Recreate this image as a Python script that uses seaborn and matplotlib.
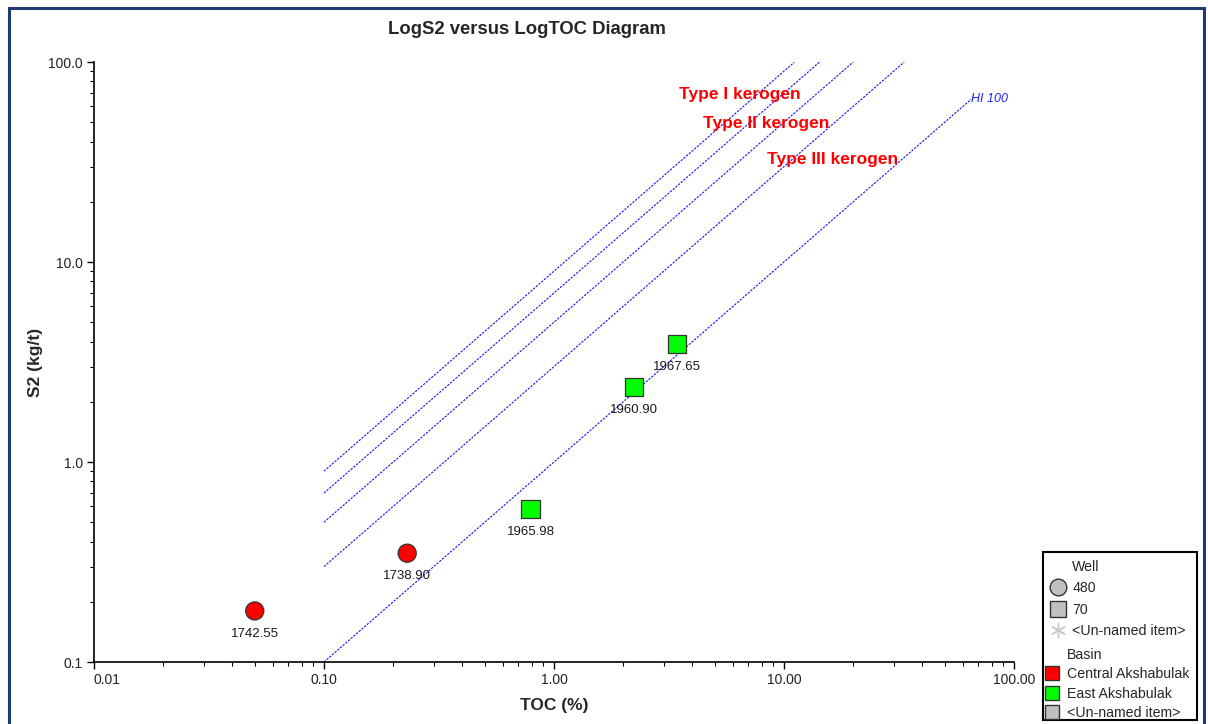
import numpy as np
import pandas as pd
import matplotlib
matplotlib.use("Agg")
import matplotlib.pyplot as plt
import seaborn as sns
from matplotlib.lines import Line2D
from matplotlib.patches import Rectangle
from matplotlib.ticker import LogLocator, NullFormatter

# ---------------- data ----------------
sample_labels = ["1742.55", "1738.90", "1965.98", "1960.90", "1967.65"]
toc = [0.05, 0.23, 0.79, 2.23, 3.43]
s2 = [0.18, 0.35, 0.58, 2.37, 3.89]
well = ["480", "480", "70", "70", "70"]
basin = ["Central Akshabulak", "Central Akshabulak",
         "East Akshabulak", "East Akshabulak", "East Akshabulak"]

hi_values = [900, 700, 500, 300, 100]
hi_toc_start = [0.1, 0.1, 0.1, 0.1, 0.1]
hi_toc_end = [11.1, 14.3, 20.0, 33.3, 65.0]

x_ticks = [0.01, 0.1, 1, 10, 100]
x_tick_labels = ["0.01", "0.10", "1.00", "10.00", "100.00"]
y_ticks = [0.1, 1, 10, 100]
y_tick_labels = ["0.1", "1.0", "10.0", "100.0"]

kerogen_labels = ["Type I kerogen", "Type II kerogen", "Type III kerogen"]
kerogen_pos = [(6.44, 69.0), (8.35, 49.5), (16.2, 32.4)]

well_levels = ["480", "70"]
basin_levels = ["Central Akshabulak", "East Akshabulak"]
basin_colors = ["#ff0000", "#00ff00"]

df = pd.DataFrame({"TOC": toc, "S2": s2, "Well": well, "Basin": basin,
                   "Label": sample_labels})

# ---------------- figure ----------------
sns.set_style("ticks")
plt.rcParams["font.family"] = ["Liberation Sans", "DejaVu Sans"]

W, H = 1208, 724
fig = plt.figure(figsize=(W / 100, H / 100), dpi=100)
ax = fig.add_axes([94 / W, 1 - 662 / H, 920 / W, 600 / H])

ax.set_xscale("log")
ax.set_yscale("log")

# HI lines
for hi, t0, t1 in zip(hi_values, hi_toc_start, hi_toc_end):
    xs = np.array([t0, t1])
    ax.plot(xs, xs * hi / 100.0, color="#1010ff", lw=0.8,
            dashes=(2.0, 1.2), zorder=2)

ax.text(hi_toc_end[-1], hi_toc_end[-1] * hi_values[-1] / 100.0,
        "HI " + str(hi_values[-1]), color="#2020ff", fontsize=9,
        style="italic", ha="left", va="center")

for lab, (px, py) in zip(kerogen_labels, kerogen_pos):
    ax.text(px, py, lab, color="#ff0000", fontsize=12.5, fontweight="bold",
            ha="center", va="center", zorder=4)

sns.scatterplot(data=df, x="TOC", y="S2", hue="Basin", style="Well",
                hue_order=basin_levels, style_order=well_levels,
                palette=dict(zip(basin_levels, basin_colors)),
                markers={"480": "o", "70": "s"}, s=170,
                edgecolor="#333333", linewidth=0.9, legend=False,
                ax=ax, zorder=5)

for x, y, lab in zip(df["TOC"], df["S2"], df["Label"]):
    ax.annotate(lab, (x, y), xytext=(0, -12), textcoords="offset points",
                ha="center", va="top", fontsize=9.5, color="#1a1a1a",
                zorder=6)

ax.set_xlim(0.01, 100)
ax.set_ylim(0.1, 100)
ax.set_xticks(x_ticks)
ax.set_xticklabels(x_tick_labels)
ax.set_yticks(y_ticks)
ax.set_yticklabels(y_tick_labels)
ax.xaxis.set_minor_locator(LogLocator(base=10, subs=np.arange(2, 10)))
ax.yaxis.set_minor_locator(LogLocator(base=10, subs=np.arange(2, 10)))
ax.xaxis.set_minor_formatter(NullFormatter())
ax.yaxis.set_minor_formatter(NullFormatter())
ax.tick_params(which="major", direction="out", length=5, width=1,
               labelsize=10, colors="#000000", labelcolor="#222222",
               bottom=True, left=True, top=False, right=False)
ax.tick_params(which="minor", direction="out", length=3, width=0.8,
               colors="#000000", bottom=True, left=True, top=False,
               right=False)
ax.tick_params(axis="x", which="major", pad=3)
ax.tick_params(axis="y", which="major", pad=3)
ax.get_xticklabels()[0].set_horizontalalignment("left")
for side in ["top", "right"]:
    ax.spines[side].set_visible(False)
for side in ["left", "bottom"]:
    ax.spines[side].set_color("#000000")
    ax.spines[side].set_linewidth(1.2)
ax.grid(False)

ax.set_xlabel("TOC (%)", fontsize=12.5, fontweight="bold", labelpad=8)
ax.set_ylabel("S2 (kg/t)", fontsize=12.5, fontweight="bold", labelpad=4)

fig.text(527 / W, 1 - 29 / H, "LogS2 versus LogTOC Diagram",
         fontsize=13.3, fontweight="bold", ha="center", va="center")

# ---------------- legend ----------------
blank = Line2D([], [], linestyle="none", marker=None)
well_handles = [
    blank,
    Line2D([], [], linestyle="none", marker="o", markersize=12,
           markerfacecolor="#c0c0c0", markeredgecolor="#333333"),
    Line2D([], [], linestyle="none", marker="s", markersize=12,
           markerfacecolor="#c0c0c0", markeredgecolor="#333333"),
    Line2D([], [], linestyle="none", marker=(6, 2, 0), markersize=11,
           markeredgecolor="#c8c8c8", markeredgewidth=1),
]
well_labels = ["Well"] + well_levels + ["<Un-named item>"]
basin_handles = [
    blank,
    Line2D([], [], linestyle="none", marker="s", markersize=9.5,
           markerfacecolor=basin_colors[0], markeredgecolor="#333333"),
    Line2D([], [], linestyle="none", marker="s", markersize=9.5,
           markerfacecolor=basin_colors[1], markeredgecolor="#333333"),
    Line2D([], [], linestyle="none", marker="s", markersize=9.5,
           markerfacecolor="#c0c0c0", markeredgecolor="#333333"),
]
basin_labels = ["Basin"] + basin_levels + ["<Un-named item>"]

common = dict(loc="upper left", frameon=False, fontsize=10.2,
              handlelength=1.0, borderpad=0, borderaxespad=0)
leg1 = fig.legend(well_handles, well_labels,
                  bbox_to_anchor=(1051 / W, 1 - 560 / H),
                  handletextpad=0.5, labelspacing=0.52, **common)
leg2 = fig.legend(basin_handles, basin_labels,
                  bbox_to_anchor=(1045 / W, 1 - 648 / H),
                  handletextpad=0.56, labelspacing=0.38, **common)

fig.patches.append(Rectangle((1043 / W, 1 - 720 / H), (1197 - 1043) / W,
                             (720 - 552) / H, transform=fig.transFigure,
                             fill=True, facecolor="none",
                             edgecolor="#000000", lw=1.5, zorder=0))

# outer frame
fig.patches.append(Rectangle((9 / W, -0.02), (1204 - 9) / W,
                             1 - 8 / H + 0.02, transform=fig.transFigure,
                             fill=False, edgecolor="#1f3a6e", lw=2.2))

fig.savefig("out.png", dpi=100)
